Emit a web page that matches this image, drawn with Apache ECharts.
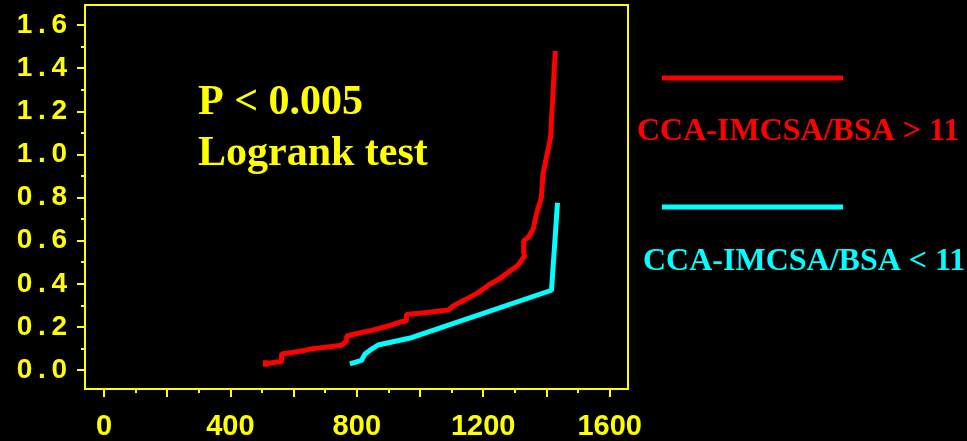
<!DOCTYPE html>
<html>
<head>
<meta charset="utf-8">
<script src="https://cdn.jsdelivr.net/npm/echarts@6/dist/echarts.min.js"></script>
<style>
html,body{margin:0;padding:0;background:#000;}
#chart{width:967px;height:441px;}
</style>
</head>
<body>
<div id="chart"></div>
<script>
// Data
const redDays   = [511, 511, 511, 546, 562, 562, 636, 651, 752, 768, 768, 794, 847, 899, 941, 957, 957, 1015, 1089, 1105, 1184, 1221, 1252, 1310, 1331, 1328, 1328, 1342, 1358, 1368, 1384, 1389, 1413, 1428];
const redValues = [0.015, 0.045, 0.028, 0.037, 0.037, 0.074, 0.091, 0.097, 0.115, 0.135, 0.158, 0.167, 0.184, 0.204, 0.224, 0.227, 0.258, 0.266, 0.278, 0.297, 0.359, 0.398, 0.424, 0.486, 0.529, 0.544, 0.599, 0.614, 0.653, 0.722, 0.800, 0.908, 1.078, 1.480];
const cyanDays   = [778, 815, 825, 841, 867, 973, 1416, 1435];
const cyanValues = [0.029, 0.045, 0.073, 0.091, 0.116, 0.150, 0.370, 0.776];

const xMajorTicks = [0, 200, 400, 600, 800, 1000, 1200, 1400, 1600];
const xMinorTicks = [100, 300, 500, 700, 900, 1100, 1300, 1500];
const xTickLabels = [0, 400, 800, 1200, 1600];
const yMajorTicks = [0, 0.2, 0.4, 0.6, 0.8, 1.0, 1.2, 1.4, 1.6];
const yMinorTicks = [0.1, 0.3, 0.5, 0.7, 0.9, 1.1, 1.3, 1.5];
const yTickLabels = [0, 0.2, 0.4, 0.6, 0.8, 1.0, 1.2, 1.4, 1.6];

const legendNames = ['CCA-IMCSA/BSA > 11', 'CCA-IMCSA/BSA < 11'];
const noteLines = ['P < 0.005', 'Logrank test'];

const YEL = '#ffff00', RED = '#ff0000', CYAN = '#00ffff';
const X_MIN = -60, X_MAX = 1658, Y_MIN = -0.088, Y_MAX = 1.693;

const zip = (a, b) => a.map((v, i) => [v, b[i]]);

function xAxisBase(extra) {
  return Object.assign({
    type: 'value', min: X_MIN, max: X_MAX, position: 'bottom',
    axisLine: { show: false, onZero: false }, splitLine: { show: false },
    axisLabel: { show: false }
  }, extra);
}
function yAxisBase(extra) {
  return Object.assign({
    type: 'value', min: Y_MIN, max: Y_MAX, position: 'left',
    axisLine: { show: false, onZero: false }, splitLine: { show: false },
    axisLabel: { show: false }
  }, extra);
}

const chart = echarts.init(document.getElementById('chart'));
chart.setOption({
  backgroundColor: '#000',
  animation: false,
  grid: { left: 85, right: 339, top: 5, bottom: 52, show: true, borderColor: YEL, borderWidth: 2, backgroundColor: 'transparent' },
  xAxis: [
    xAxisBase({
      axisTick: { show: true, inside: false, length: 8, customValues: xMajorTicks, lineStyle: { color: YEL, width: 2 } },
      axisLabel: { show: true, customValues: xTickLabels, color: YEL, fontFamily: 'Liberation Sans', fontWeight: 'bold', fontSize: 29, margin: 23,
        formatter: v => String(v) }
    }),
    xAxisBase({
      axisTick: { show: true, inside: false, length: 4, customValues: xMinorTicks, lineStyle: { color: YEL, width: 2 } }
    })
  ],
  yAxis: [
    yAxisBase({
      axisTick: { show: true, inside: false, length: 8, customValues: yMajorTicks, lineStyle: { color: YEL, width: 2 } },
      axisLabel: {
        show: true, customValues: yTickLabels, color: YEL, fontFamily: 'Liberation Sans', fontWeight: 'bold', fontSize: 28, margin: 18,
        formatter: v => v.toFixed(1).split('').join('\u2009')
      }
    }),
    yAxisBase({
      axisTick: { show: true, inside: false, length: 4, customValues: yMinorTicks, lineStyle: { color: YEL, width: 2 } }
    })
  ],
  series: [
    { name: legendNames[0], type: 'line', data: zip(redDays, redValues), showSymbol: false, symbol: 'none',
      lineStyle: { color: RED, width: 5 }, xAxisIndex: 0, yAxisIndex: 0 },
    { name: legendNames[1], type: 'line', data: zip(cyanDays, cyanValues), showSymbol: false, symbol: 'none',
      lineStyle: { color: CYAN, width: 5 }, xAxisIndex: 0, yAxisIndex: 0 }
  ],
  graphic: [
    { type: 'text', left: 198, top: 82, style: { text: noteLines[0], fill: YEL, font: 'bold 42px "Liberation Serif"' } },
    { type: 'text', left: 198, top: 133, style: { text: noteLines[1], fill: YEL, font: 'bold 42px "Liberation Serif"' } },
    { type: 'line', shape: { x1: 662, y1: 78, x2: 843, y2: 78 }, style: { stroke: RED, lineWidth: 5 } },
    { type: 'text', left: 637, top: 116, style: { text: legendNames[0], fill: RED, font: 'bold 32px "Liberation Serif"' } },
    { type: 'line', shape: { x1: 662, y1: 207, x2: 843, y2: 207 }, style: { stroke: CYAN, lineWidth: 5 } },
    { type: 'text', left: 643, top: 246, style: { text: legendNames[1], fill: CYAN, font: 'bold 32px "Liberation Serif"' } }
  ]
});
</script>
</body>
</html>
